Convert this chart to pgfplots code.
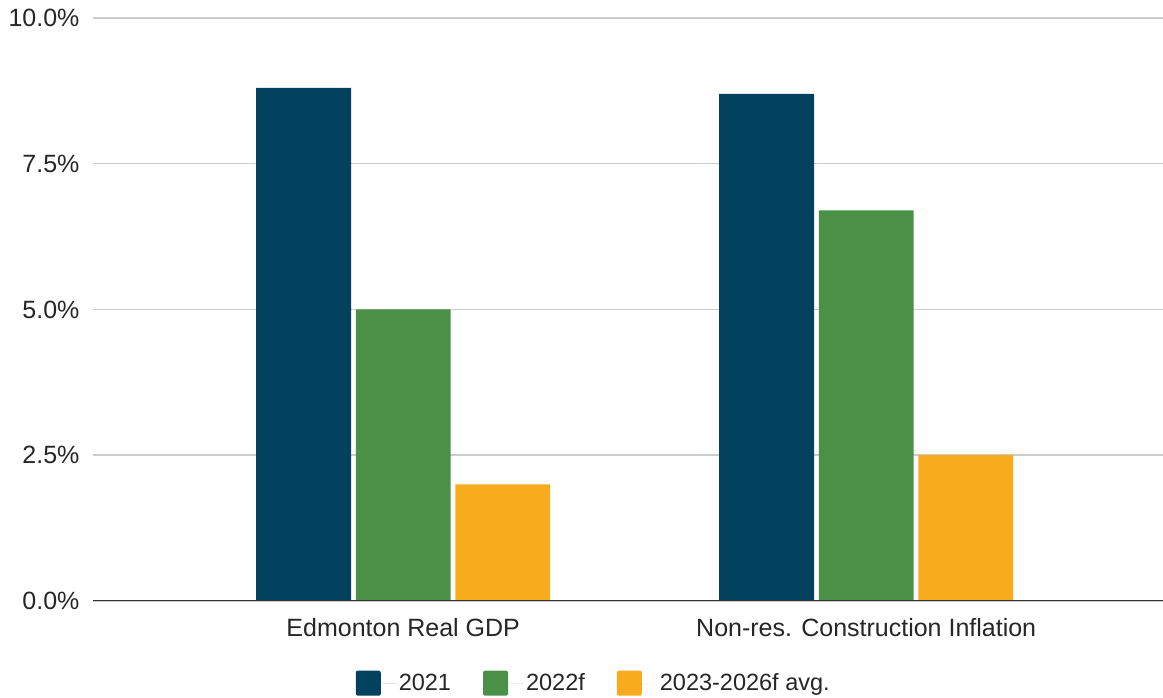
\documentclass[border=0pt]{standalone}
\usepackage{fontspec}
\setmainfont{Liberation Sans}
\usepackage{pgfplots}
\pgfplotsset{compat=1.18}
\definecolor{cA}{HTML}{02425E}
\definecolor{cB}{HTML}{4A9147}
\definecolor{cC}{HTML}{F9AB1E}
\definecolor{gridc}{HTML}{CCCCCC}
\begin{document}
\begin{tikzpicture}
\path[use as bounding box] (-93pt,-97pt) rectangle (1070pt,601pt);
\begin{axis}[
  scale only axis, width=1070pt, height=583pt,
  xmin=-0.670, xmax=1.641, ymin=0, ymax=10,
  ytick={0,2.5,5,7.5,10},
  yticklabel={\pgfmathprintnumber[fixed,fixed zerofill,precision=1]{\tick}\%},
  xtick={0,1},
  xticklabels={Edmonton Real GDP, Non-res. Construction Inflation},
  axis line style={draw=none},
  major tick length=0pt,
  ymajorgrids,
  grid style={color=gridc, line width=1.5pt},
  tick label style={font=\fontsize{25}{30}\selectfont, text=black!85},
  yticklabel style={xshift=-10pt},
  xticklabel style={yshift=-14pt},
  /pgf/number format/assume math mode=true,
  mylegend/.style={legend image code/.code={\fill[##1, rounded corners=2pt] (0pt,-12.5pt) rectangle (25pt,12.5pt); \path (0pt,0pt) -- (41pt,0pt);}},
  legend style={at={(0.468,-0.141)}, anchor=center, draw=none,
    font=\fontsize{23.5}{28}\selectfont, text=black!85,
    /tikz/every even column/.append style={column sep=30pt}},
  legend columns=3,
]
\addplot[ybar, bar width=0.205, bar shift=-0.215, fill=cA, draw=none, mylegend] coordinates {(0,8.8) (1,8.7)};
\addplot[ybar, bar width=0.205, bar shift=0, fill=cB, draw=none, mylegend] coordinates {(0,5.0) (1,6.7)};
\addplot[ybar, bar width=0.205, bar shift=0.215, fill=cC, draw=none, mylegend] coordinates {(0,2.0) (1,2.5)};
\legend{2021, 2022f, 2023-2026f avg.}
\draw[color=black!80, line width=1.8pt] (axis cs:-0.670,0) -- (axis cs:1.641,0);
\end{axis}
\end{tikzpicture}
\end{document}
